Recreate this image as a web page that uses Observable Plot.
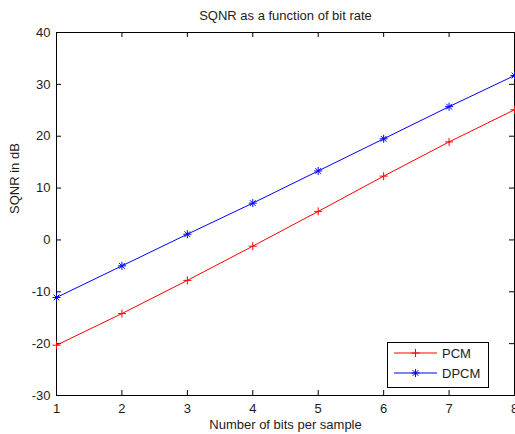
<!DOCTYPE html>
<html>
<head>
<meta charset="utf-8">
<script src="https://cdn.jsdelivr.net/npm/d3@7"></script>
<script src="https://cdn.jsdelivr.net/npm/@observablehq/plot@0.6"></script>
<style>
  body { margin: 0; background: #fff; }
  #chart svg { font-family: "Liberation Sans", Arial, sans-serif; }
</style>
</head>
<body>
<div id="chart"></div>
<script>
// Signal-to-quantization-noise ratio (dB) per number of bits per sample
const bits = [1, 2, 3, 4, 5, 6, 7, 8];
const pcm = [-20.3, -14.2, -7.8, -1.2, 5.5, 12.3, 18.9, 25.1];
const dpcm = [-11.1, -5.0, 1.1, 7.1, 13.3, 19.5, 25.7, 31.7];

const xTicks = [1, 2, 3, 4, 5, 6, 7, 8];
const yTicks = [-30, -20, -10, 0, 10, 20, 30, 40];

const seriesNames = ["PCM", "DPCM"];
const seriesColors = ["#ff0000", "#0000ff"];

const titleText = "SQNR as a function of bit rate";
const xLabel = "Number of bits per sample";
const yLabel = "SQNR in dB";

// Layout
const W = 515, H = 434;
const mt = 32, mr = 1, mb = 39, ml = 56;
const innerW = W - ml - mr, innerH = H - mt - mb;
const tickLen = 5;
const ink = "#1c1c1c";
const markerArea = 22.9; // d3 symbol size

const rows = bits.flatMap((b, i) => [
  { bits: b, sqnr: pcm[i], series: seriesNames[0] },
  { bits: b, sqnr: dpcm[i], series: seriesNames[1] }
]);
const pcmRows = rows.filter(d => d.series === seriesNames[0]);
const dpcmRows = rows.filter(d => d.series === seriesNames[1]);
const markerR = Math.sqrt(markerArea / Math.PI);

const plot = Plot.plot({
  width: W, height: H,
  marginTop: mt, marginRight: mr, marginBottom: mb, marginLeft: ml,
  style: { fontFamily: "'Liberation Sans', Arial, sans-serif", fontSize: "13px", color: ink, background: "#fff", overflow: "visible" },
  x: { domain: [1, 8] },
  y: { domain: [-30, 40] },
  color: { domain: seriesNames, range: seriesColors },
  marks: [
    Plot.axisX({ ticks: xTicks, tickSize: 0, tickPadding: 8, tickFormat: d => String(d), label: null }),
    Plot.axisY({ ticks: yTicks, tickSize: 0, tickPadding: 6, tickFormat: d => String(d), label: null }),
    // inward ticks on all four sides
    Plot.tickX(xTicks, { x: d => d, insetTop: innerH - tickLen, stroke: "#000" }),
    Plot.tickX(xTicks, { x: d => d, insetBottom: innerH - tickLen, stroke: "#000" }),
    Plot.tickY(yTicks, { y: d => d, insetRight: innerW - tickLen, stroke: "#000" }),
    Plot.tickY(yTicks, { y: d => d, insetLeft: innerW - tickLen, stroke: "#000" }),
    Plot.frame({ stroke: "#000" }),
    Plot.line(rows, { x: "bits", y: "sqnr", z: "series", stroke: "series", strokeWidth: 1 }),
    Plot.dot(pcmRows, { x: "bits", y: "sqnr", symbol: "plus", r: markerR, stroke: "series", strokeWidth: 1 }),
    Plot.dot(dpcmRows, { x: "bits", y: "sqnr", symbol: "plus", r: markerR, stroke: "series", strokeWidth: 1 }),
    Plot.dot(dpcmRows, { x: "bits", y: "sqnr", symbol: "times", r: markerR, stroke: "series", strokeWidth: 1 }),
    Plot.text([titleText], { text: d => d, frameAnchor: "top", lineAnchor: "middle", dy: -17, fill: ink }),
    Plot.text([xLabel], { text: d => d, frameAnchor: "bottom", lineAnchor: "middle", dy: 29, fill: ink }),
    Plot.text([yLabel], { text: d => d, frameAnchor: "left", lineAnchor: "middle", rotate: -90, dx: -42, fill: ink })
  ]
});

// Legend box in the lower-right corner of the axes
const legW = 101, legH = 45;
const legX = ml + innerW - 26 - legW;
const legY = mt + innerH - 8 - legH;
const svg = d3.select(plot);
const leg = svg.append("g").attr("transform", `translate(${legX},${legY})`);
leg.append("rect")
  .attr("x", 0.5).attr("y", 0.5).attr("width", legW).attr("height", legH)
  .attr("fill", "#fff").attr("stroke", "#000");
const legendSymbols = [[d3.symbolPlus], [d3.symbolPlus, d3.symbolTimes]];
seriesNames.forEach((name, i) => {
  const y = 11 + i * 20;
  const g = leg.append("g").attr("stroke", seriesColors[i]).attr("fill", "none");
  g.append("path").attr("d", `M7,${y}H50`);
  legendSymbols[i].forEach(s => {
    g.append("path").attr("d", d3.symbol(s, markerArea)())
      .attr("transform", `translate(28.5,${y})`);
  });
  leg.append("text").attr("x", 55).attr("y", y).attr("dy", "0.35em")
    .attr("text-anchor", "start").attr("fill", ink).attr("font-size", 13)
    .text(name);
});

document.getElementById("chart").append(plot);
</script>
</body>
</html>
